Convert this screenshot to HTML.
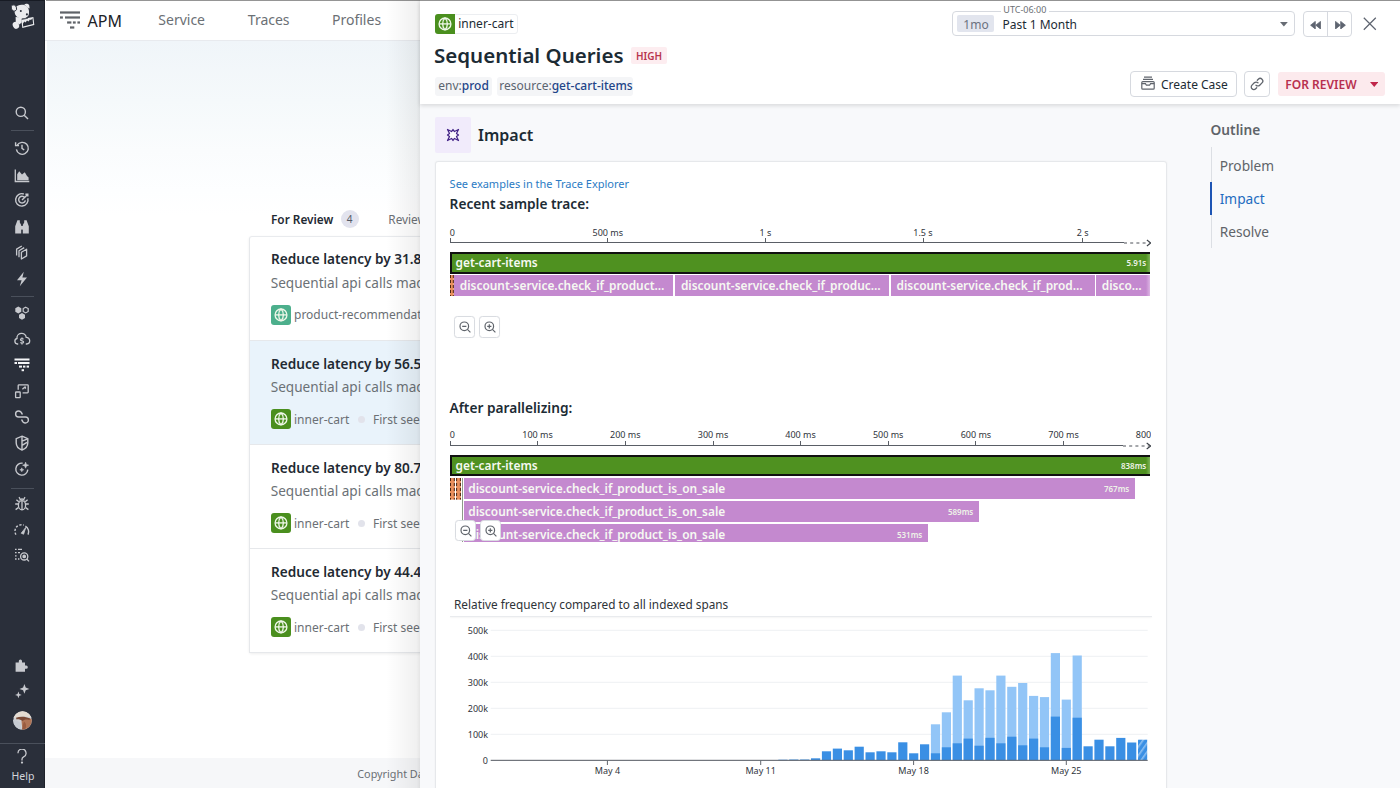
<!DOCTYPE html>
<html><head><meta charset="utf-8">
<style>
*{box-sizing:border-box;margin:0;padding:0}
html,body{width:1400px;height:788px;overflow:hidden;background:#fff}
body{position:relative;font-family:"Noto Sans","Liberation Sans",sans-serif;color:#1c2b34;line-height:normal}
.a{position:absolute;white-space:nowrap}
#side{left:0;top:0;width:45px;height:788px;background:#2a2f3a}
.si{position:absolute;left:14px;width:16px;height:16px;overflow:visible}
.sep{position:absolute;left:11px;width:23px;height:1px;background:#4a505b}
#topnav{left:45px;top:0;width:380px;height:41px;background:#fff;border-bottom:1px solid #e8eaee}
#main{left:45px;top:41px;width:380px;height:717px;background:linear-gradient(#f0f5f9,#f5f9fb 60px,#fafcfd 110px,#fdfeff 150px,#fff 175px);border-left:2px solid #fff}
.navt{top:10.4px;font-size:14px;color:#6b7075}
#footer{left:45px;top:758px;width:380px;height:30px;background:#f6f7f9}
.row{position:absolute;left:248.5px;width:180px;height:104px;border-left:1px solid #e6e8eb;border-bottom:1px solid #e6e8eb;background:#fff;overflow:hidden}
.row.sel{background:#e9f3fb}
.row .t1{position:absolute;left:21.5px;top:13.1px;font-size:13.6px;font-weight:600;white-space:nowrap;color:#1f2a33}
.row .t2{position:absolute;left:21.2px;top:36.8px;font-size:13.6px;white-space:nowrap;color:#6b7176}
.row .t3{position:absolute;left:44.5px;top:70px;font-size:12px;white-space:nowrap;color:#6b7075}
.row .dot{position:absolute;left:108.2px;top:75.6px;width:7px;height:7px;border-radius:50%;background:#e2e3eb}
.row .t4{position:absolute;left:123.5px;top:70px;font-size:12px;white-space:nowrap;color:#6b7075}
.svc{position:absolute;width:20px;height:20px;border-radius:3px;background:#4a8f1e}
.svc svg{position:absolute;left:0;top:0}
.tl{font-size:9px;color:#2f353c}
.gbar{background:linear-gradient(90deg,#4f9120 0,#4f9120 calc(100% - 4px),#7fb35a 100%);border:2px solid #111;border-right:none}
.bt{font-size:11.9px;font-weight:600;color:#f6f9f2}
.pbar{background:#c489cf}
.dur{font-size:8px;font-weight:600;color:#eef3e8}
.stripe{background:repeating-linear-gradient(0deg,#e58a45 0 3px,#3b2b20 3px 4px)}
.stripe2{background:linear-gradient(90deg,#222 0 1px,#e2874a 1px 4px,#222 4px 5px,transparent 5px 6px,#222 6px 7px,#e2874a 7px 10px,#222 10px 11px)}
.zb{width:21.2px;height:21.6px;border:1px solid #d9dce1;border-radius:3.5px;background:#fff;box-shadow:0 0 1px rgba(0,0,0,.06)}
.zb svg{position:absolute;left:0;top:0}
</style></head>
<body>
<!-- ============ LEFT SIDEBAR ============ -->
<div id="side" class="a"></div>
<div class="a" style="left:44px;top:0;width:1.4px;height:788px;background:#1e212a"></div>
<!--SIDEBAR-->
<!-- logo -->
<svg class="a" style="left:0;top:0" width="44" height="34" viewBox="0 0 44 34">
 <g fill="#eaebed">
  <path d="M15.5 7.5C17 5 20.5 4.3 23.5 4.8C26.5 5.3 28.6 7.5 28.9 10.5C29.2 12.5 29 14.5 28.2 16C26.5 18 23.5 18.6 21 18.4C18.5 18.2 16.2 17 15.2 14.6C14.3 12.3 14.3 9.6 15.5 7.5z"/>
  <path d="M24.2 4.2C26 3.3 28.2 3.6 29.2 5.2L29.6 8.4L27.6 7.6C26.6 6.4 25.4 5.4 24.2 4.2z"/>
  <path d="M15.6 17L21.8 17.6L21.6 22.4L19.4 24.4L15.8 22z"/>
  <ellipse cx="15.9" cy="25.3" rx="3.1" ry="3.6" transform="rotate(-25 15.9 25.3)"/>
  <path d="M21.2 19.3L33.4 16.9L34.3 24.9L22.3 27.9z"/>
 </g>
 <ellipse cx="13.9" cy="8" rx="2.6" ry="3.3" transform="rotate(-20 13.9 8)" fill="#eaebed" stroke="#2a2f3a" stroke-width="0.9"/>
 <circle cx="20.8" cy="11.1" r="1" fill="#2a2f3a"/>
 <circle cx="26.9" cy="14.4" r="1.05" fill="#2a2f3a"/>
 <path d="M23.1 26.6L23 23.5L24.3 21.6L25.5 22.6L27 20.5L28.5 21.4L29.9 19.5L31 19.9L32.5 18.3L33.1 23.9z" fill="#2a2f3a"/>
 <path d="M21.6 19.6L28 18.2" stroke="#2a2f3a" stroke-width="0.7"/>
</svg>
<g></g>
<svg class="si" style="top:105px" viewBox="0 0 16 16" fill="none" stroke="#c7c9ce" stroke-width="1.4"><circle cx="6.8" cy="6.8" r="4.6"/><path d="M10.2 10.2L14 14"/></svg>
<div class="sep" style="top:130px"></div>
<svg class="si" style="top:140px" viewBox="0 0 16 16" fill="none" stroke="#c7c9ce" stroke-width="1.4"><path d="M3.2 5.2A6 6 0 1 1 2.4 9.4"/><path d="M1.6 2.2v3.4h3.4"/><path d="M8 4.8v3.6l2.2 1.6"/></svg>
<svg class="si" style="top:167px" viewBox="0 0 16 16"><path d="M1.3 2.5v12h14" fill="none" stroke="#c7c9ce" stroke-width="1.3"/><path d="M3.2 13.3V7.2L5.2 4.2L8 7.6L10.8 5.2L13 9L14.6 10.4V13.3z" fill="#c7c9ce"/></svg>
<svg class="si" style="top:192px" viewBox="0 0 16 16" fill="none" stroke="#c7c9ce" stroke-width="1.4"><path d="M13.8 6.2A6.2 6.2 0 1 1 9.8 2"/><path d="M10.8 5.6A3.4 3.4 0 1 0 11.4 8.4"/><path d="M8 8l5.6-5.6M11.4 2.2h2.4v2.4"/></svg>
<svg class="si" style="top:219px" viewBox="0 0 16 16" fill="#c7c9ce"><path d="M3.4 1.2h2.4v2.4L7.2 6v8.6H1.2V7.2L2.6 3.6z"/><path d="M10.2 1.2h2.4l0.8 2.4l1.4 3.6v7.4H8.8V6l1.4-2.4z"/><rect x="6.6" y="7" width="2.8" height="3.6"/></svg>
<svg class="si" style="top:244px" viewBox="0 0 16 16" fill="none" stroke="#c7c9ce" stroke-width="1.3" stroke-linejoin="round"><path d="M7.4 8.3L12.6 5.2V11.9L7.4 15z"/><path d="M5 13.2V6.7L10.2 3.6"/><path d="M2.6 11.5V5.1L7.8 2"/></svg>
<svg class="si" style="top:271px" viewBox="0 0 16 16" fill="#c7c9ce"><path d="M9.8 0.8L3 9.2h4.6L5.8 15.2L13 6.6H8.4z"/></svg>
<div class="sep" style="top:295.5px"></div>
<svg class="si" style="top:305px" viewBox="0 0 16 16"><g fill="#c7c9ce"><path d="M4.3 1.6l3 1.7v3.4l-3 1.7l-3-1.7V3.3z"/><path d="M8 8l3 1.7v3.4l-3 1.7l-3-1.7V9.7z"/></g><path d="M11.7 2.2l2.5 1.4v2.9l-2.5 1.4l-2.5-1.4V3.6z" fill="none" stroke="#c7c9ce" stroke-width="1.2"/></svg>
<svg class="si" style="top:331px" viewBox="0 0 16 16" fill="none" stroke="#c7c9ce" stroke-width="1.3"><path d="M4.2 13H3.4A2.8 2.8 0 0 1 3 7.5A4.6 4.6 0 0 1 12.2 6.4A3.3 3.3 0 0 1 12.6 13H11.8"/><path d="M9.4 8.4C9.1 7.8 8.6 7.6 8 7.6c-0.9 0-1.5 0.5-1.5 1.1c0 1.4 3.1 0.9 3.1 2.4c0 0.6-0.7 1.1-1.6 1.1c-0.7 0-1.2-0.3-1.5-0.8M8 6.6v1M8 12.2v1.2"/></svg>
<svg class="si" style="top:357px" viewBox="0 0 16 16"><g fill="#f4f5f7"><rect x="0.5" y="1.5" width="15" height="2"/><rect x="0.5" y="5" width="2.5" height="2"/><rect x="4" y="5" width="11.5" height="2"/><rect x="5" y="8.6" width="3" height="2"/><rect x="9" y="8.6" width="2.4" height="2"/><rect x="12.6" y="8.6" width="2.4" height="2"/><rect x="7.6" y="12.2" width="2.4" height="2"/></g></svg>
<svg class="si" style="top:383px" viewBox="0 0 16 16" fill="none" stroke="#c7c9ce" stroke-width="1.3"><rect x="1.6" y="9" width="4.6" height="5.6" rx="0.6"/><path d="M4.2 6.8V2.6A0.8 0.8 0 0 1 5 1.8h8.4a0.8 0.8 0 0 1 0.8 0.8v6.4a0.8 0.8 0 0 1-0.8 0.8H8.6"/><path d="M8.4 6.2l2.8-2.4M11.4 3.6v2.2"/></svg>
<svg class="si" style="top:409px" viewBox="0 0 16 16" fill="none" stroke="#c7c9ce" stroke-width="1.4"><path d="M8.4 5.6C7.6 3.4 6.4 2 4.6 2a3 3 0 0 0 0 6h6.8a3 3 0 0 1 0 6c-1.8 0-3-1.4-3.8-3.6"/></svg>
<svg class="si" style="top:435px" viewBox="0 0 16 16" fill="none" stroke="#c7c9ce" stroke-width="1.4"><path d="M8 1.2l5.8 2.4v4.2c0 3.4-2.4 6-5.8 7.2C4.6 13.8 2.2 11.2 2.2 7.8V3.6z"/><path d="M8 1.4v13.6M8 6.2l5.6-2.4M8 10.4l5-3"/></svg>
<svg class="si" style="top:461px" viewBox="0 0 16 16" fill="none" stroke="#c7c9ce" stroke-width="1.4"><path d="M13.8 8.6A6 6 0 1 1 8.6 2.2"/><path d="M11.6 1.2l0.8 2.2l2.2 0.8l-2.2 0.8l-0.8 2.2l-0.8-2.2l-2.2-0.8l2.2-0.8z" fill="#c7c9ce" stroke-width="0.6"/><path d="M7.8 6.8l0.6 1.4l1.4 0.6l-1.4 0.6l-0.6 1.4l-0.6-1.4l-1.4-0.6l1.4-0.6z" fill="#c7c9ce" stroke-width="0.5"/></svg>
<div class="sep" style="top:488px"></div>
<svg class="si" style="top:496px" viewBox="0 0 16 16" fill="none" stroke="#c7c9ce" stroke-width="1.3"><ellipse cx="8" cy="9.2" rx="3.6" ry="4.6"/><path d="M5.6 4.6A2.6 2.6 0 0 1 10.4 4.6M8 4.6v9.2M4.4 8H1.2M11.6 8h3.2M4.4 11.6l-2.8 2M11.6 11.6l2.8 2M4.8 5.8L2.4 3.8M11.2 5.8l2.4-2M6 2.8L5 1.2M10 2.8l1-1.6"/></svg>
<svg class="si" style="top:522px" viewBox="0 0 16 16" fill="none" stroke="#c7c9ce" stroke-width="1.4"><path d="M2 12.6A6.4 6.4 0 0 1 9.8 3.2" stroke-dasharray="2.2 1.6"/><path d="M11.4 4.2A6.4 6.4 0 0 1 14 12.6"/><path d="M7.2 11.2l4.6-5.8l-2.2 6.8z" fill="#c7c9ce" stroke-width="0.8"/></svg>
<svg class="si" style="top:547px" viewBox="0 0 16 16" fill="none" stroke="#c7c9ce" stroke-width="1.3"><path d="M1 2.4h1.6M4 2.4h4M1 5.6h1.6M4 5.6h2M1 8.8h1.6M1 12h1.6M4 12h1.4"/><circle cx="10.2" cy="9.4" r="3.6"/><circle cx="10.2" cy="9.4" r="1.2" fill="#c7c9ce"/><path d="M12.8 12l2.2 2.4"/></svg>
<svg class="si" style="top:657px" viewBox="0 0 16 16" fill="#c7c9ce"><path d="M1.6 5.4h3.2V4a1.6 1.6 0 0 1 3.2 0v1.4h3v3.2h1.2a1.6 1.6 0 0 1 0 3.2h-1.2v3H1.6z"/></svg>
<svg class="si" style="top:683px" viewBox="0 0 16 16" fill="#c7c9ce"><path d="M10.4 1l1.3 3.6l3.6 1.3l-3.6 1.3l-1.3 3.6l-1.3-3.6l-3.6-1.3l3.6-1.3z"/><path d="M4.4 8.6l0.9 2.4l2.4 0.9l-2.4 0.9l-0.9 2.4l-0.9-2.4l-2.4-0.9l2.4-0.9z"/></svg>
<svg class="a" style="left:12.6px;top:711.2px" width="19" height="19" viewBox="0 0 19 19"><defs><clipPath id="av"><circle cx="9.5" cy="9.5" r="9.3"/></clipPath><filter id="avb" x="-20%" y="-20%" width="140%" height="140%"><feGaussianBlur stdDeviation="0.7"/></filter></defs><g clip-path="url(#av)"><rect width="19" height="19" fill="#cfd0d3"/><g filter="url(#avb)"><path d="M0 0H19V7C15 5 9 5 3 6.5L0 7z" fill="#e4dcd2"/><path d="M8.5 8C11 6.8 15 6.5 19 8V19H10C9 16 8.5 12 8.5 8z" fill="#b07556"/><path d="M3 6.8C7 5.4 12 5.2 17 7.5L16.5 9C13 8 11 8.6 9.5 10C8 8.6 5.5 8.2 3.5 8.4z" fill="#7a4a36"/><path d="M11 10.5c1.5 1 2.5 3 2 6l-2 2.5H8.8c0.8-3 1.2-6 2.2-8.5z" fill="#9a5c40"/><path d="M0 9C2 8.6 5 9.5 7.5 12L8.5 19H0z" fill="#c5cad1"/></g></g></svg>
<div class="a" style="left:0;top:743px;width:45px;height:1px;background:#4a505b"></div>
<svg class="a" style="left:16px;top:749px" width="12" height="15" viewBox="0 0 12 15" fill="none" stroke="#c7c9ce" stroke-width="1.3"><path d="M2 4.2a4 4 0 1 1 5.6 3.6c-1 0.5-1.6 1.2-1.6 2.4v1.2"/><circle cx="6" cy="13.6" r="0.5" fill="#c7c9ce"/></svg>
<div class="a" style="left:11.5px;top:768.5px;font-size:10.5px;color:#d3d5da">Help</div>
<!--/SIDEBAR-->

<!-- ============ TOP NAV + MAIN ============ -->
<div id="main" class="a"></div>
<div id="topnav" class="a"></div>
<svg class="a" style="left:60px;top:11px" width="20" height="18" viewBox="0 0 20 18"><g fill="#5f6368"><rect x="0" y="0.4" width="20" height="2.2"/><rect x="0" y="5.4" width="2.9" height="2.2"/><rect x="5" y="5.4" width="15" height="2.2"/><rect x="7.1" y="10.4" width="4.3" height="2.2"/><rect x="12.9" y="10.4" width="2.8" height="2.2"/><rect x="17.4" y="10.4" width="2.6" height="2.2"/><rect x="10" y="15.4" width="4.3" height="2.2"/></g></svg>
<div class="a" style="left:87.5px;top:9.6px;font-size:16px;color:#1c2228">APM</div>
<div class="a navt" style="left:158.3px">Service</div>
<div class="a navt" style="left:247.8px">Traces</div>
<div class="a navt" style="left:332px">Profiles</div>

<div class="a" style="left:271px;top:211.1px;font-size:11.8px;font-weight:600;color:#1f2a33">For Review</div>
<div class="a" style="left:340.5px;top:209.8px;width:18px;height:18px;border-radius:50%;background:#e2e3ee;font-size:10px;color:#555b66;text-align:center;line-height:18px">4</div>
<div class="a" style="left:388.3px;top:211.1px;font-size:11.8px;color:#6b7075">Reviewed</div>

<div class="a" style="left:248.5px;top:236px;width:190px;height:417px;border-radius:3px;box-shadow:0 1px 3px rgba(0,0,0,.07)"></div>
<div class="row" style="top:236px;border-top:1px solid #e9ebee;border-top-left-radius:3px;height:104.5px">
  <div class="t1" style="top:12.1px">Reduce latency by 31.8%</div>
  <div class="t2" style="top:35.8px">Sequential api calls made by</div>
  <div class="svc" style="left:21px;top:67.5px;background:#4caf8c"><svg width="20" height="20" viewBox="0 0 20 20" fill="none" stroke="#eef7e8" stroke-width="1.35"><circle cx="10" cy="9.9" r="5.9"/><path d="M10 4C6.9 6.6 6.9 13.2 10 15.8C13.1 13.2 13.1 6.6 10 4z"/><path d="M4.1 9.9h11.8"/></svg></div>
  <div class="t3" style="top:69px">product-recommendation</div>
</div>
<div class="row sel" style="top:340.5px">
  <div class="t1">Reduce latency by 56.5%</div>
  <div class="t2">Sequential api calls made by</div>
  <div class="svc" style="left:21px;top:68.5px"><svg width="20" height="20" viewBox="0 0 20 20" fill="none" stroke="#eef7e8" stroke-width="1.35"><circle cx="10" cy="9.9" r="5.9"/><path d="M10 4C6.9 6.6 6.9 13.2 10 15.8C13.1 13.2 13.1 6.6 10 4z"/><path d="M4.1 9.9h11.8"/></svg></div>
  <div class="t3">inner-cart</div><div class="dot"></div><div class="t4">First seen</div>
</div>
<div class="row" style="top:444.5px">
  <div class="t1">Reduce latency by 80.7%</div>
  <div class="t2">Sequential api calls made by</div>
  <div class="svc" style="left:21px;top:68.5px"><svg width="20" height="20" viewBox="0 0 20 20" fill="none" stroke="#eef7e8" stroke-width="1.35"><circle cx="10" cy="9.9" r="5.9"/><path d="M10 4C6.9 6.6 6.9 13.2 10 15.8C13.1 13.2 13.1 6.6 10 4z"/><path d="M4.1 9.9h11.8"/></svg></div>
  <div class="t3">inner-cart</div><div class="dot"></div><div class="t4">First seen</div>
</div>
<div class="row" style="top:548.5px">
  <div class="t1">Reduce latency by 44.4%</div>
  <div class="t2">Sequential api calls made by</div>
  <div class="svc" style="left:21px;top:68.5px"><svg width="20" height="20" viewBox="0 0 20 20" fill="none" stroke="#eef7e8" stroke-width="1.35"><circle cx="10" cy="9.9" r="5.9"/><path d="M10 4C6.9 6.6 6.9 13.2 10 15.8C13.1 13.2 13.1 6.6 10 4z"/><path d="M4.1 9.9h11.8"/></svg></div>
  <div class="t3">inner-cart</div><div class="dot"></div><div class="t4">First seen</div>
</div>

<div id="footer" class="a"></div>
<div class="a" style="left:357.3px;top:766.3px;font-size:10.8px;color:#6b7075">Copyright Datadog, Inc. 2024</div>
<div class="a" style="left:45.5px;top:0;width:1355px;height:1px;background:#959595"></div>
<div class="a" style="left:0;top:0;width:45px;height:1px;background:#171b24"></div>

<!-- ============ DRAWER ============ -->
<div class="a" style="left:386px;top:0;width:34px;height:788px;background:linear-gradient(90deg,rgba(0,0,0,0),rgba(0,0,0,.03) 50%,rgba(0,0,0,.06) 90%,rgba(0,0,0,.10))"></div>
<div class="a" style="left:420px;top:1px;width:980px;height:787px;background:#f8f9fb"></div>
<div class="a" style="left:420px;top:1px;width:980px;height:103px;background:#fff;box-shadow:0 2px 4px rgba(0,0,0,.12)"></div>

<!-- service chip -->
<div class="a" style="left:434.5px;top:14px;width:83px;height:20px;border:1px solid #eceef1;border-radius:3px;background:#fff"></div>
<div class="svc" style="left:434.5px;top:14px;border-radius:3px 0 0 3px"><svg width="20" height="20" viewBox="0 0 20 20" fill="none" stroke="#eef7e8" stroke-width="1.35"><circle cx="10" cy="9.9" r="5.9"/><path d="M10 4C6.9 6.6 6.9 13.2 10 15.8C13.1 13.2 13.1 6.6 10 4z"/><path d="M4.1 9.9h11.8"/></svg></div>
<div class="a" style="left:458.2px;top:15.1px;font-size:12px;color:#1c2b34">inner-cart</div>

<div class="a" style="left:434px;top:40.8px;font-size:20.5px;font-weight:600;color:#1c2b34">Sequential Queries</div>
<div class="a" style="left:631.3px;top:47.4px;width:35.3px;height:16.6px;background:#fdedf0;border-radius:2px"></div>
<div class="a" style="left:636px;top:48.8px;font-size:10px;font-weight:600;color:#b8344f">HIGH</div>

<div class="a" style="left:435px;top:77px;width:56.5px;height:18.6px;background:#f4f5f7;border-radius:3px"></div>
<div class="a" style="left:496.5px;top:77px;width:136.7px;height:18.6px;background:#f4f5f7;border-radius:3px"></div>
<div class="a" style="left:438.3px;top:77.4px;font-size:12px;color:#5b6470">env:<span style="color:#224488;font-weight:500">prod</span></div>
<div class="a" style="left:499.3px;top:77.4px;font-size:12px;color:#5b6470">resource:<span style="color:#224488;font-weight:500">get-cart-items</span></div>

<!-- time picker -->
<div class="a" style="left:952px;top:11.4px;width:343.4px;height:24.8px;border:1px solid #d6d9df;border-radius:4px;background:#fff"></div>
<div class="a" style="left:1001px;top:5px;width:48px;height:10px;background:#fff"></div>
<div class="a" style="left:1003.3px;top:3.2px;font-size:9px;color:#6b7075">UTC-06:00</div>
<div class="a" style="left:957px;top:15.4px;width:37.3px;height:16.3px;background:#e2e5ee;border-radius:2px"></div>
<div class="a" style="left:963.3px;top:15.8px;font-size:12px;color:#6b7280">1mo</div>
<div class="a" style="left:1002.5px;top:15.8px;font-size:12px;color:#1c2b34">Past 1 Month</div>
<svg class="a" style="left:1279.8px;top:22.3px" width="7.8" height="4.6" viewBox="0 0 7.8 4.6"><path d="M0 0h7.8L3.9 4.6z" fill="#676c74"/></svg>
<div class="a" style="left:1302.6px;top:11.4px;width:49.4px;height:25.2px;border:1px solid #d6d9df;border-radius:4px;background:#fff"></div>
<div class="a" style="left:1327px;top:12px;width:1px;height:24px;background:#d6d9df"></div>
<svg class="a" style="left:1309.5px;top:20.6px" width="11" height="8.4" viewBox="0 0 11 8.4"><path d="M5.3 0.4L0.6 4.2l4.7 3.8zM10.5 0.4L5.8 4.2l4.7 3.8z" fill="#5e6470" stroke="#5e6470" stroke-width="0.8" stroke-linejoin="round"/></svg>
<svg class="a" style="left:1334.8px;top:20.6px" width="11" height="8.4" viewBox="0 0 11 8.4"><path d="M0.5 0.4L5.2 4.2L0.5 8zM5.7 0.4l4.7 3.8l-4.7 3.8z" fill="#5e6470" stroke="#5e6470" stroke-width="0.8" stroke-linejoin="round"/></svg>
<svg class="a" style="left:1362.5px;top:16.8px" width="14" height="14" viewBox="0 0 14 14"><path d="M0.8 0.8L12.8 12.8M12.8 0.8L0.8 12.8" stroke="#5e6470" stroke-width="1.25" fill="none"/></svg>

<!-- action buttons -->
<div class="a" style="left:1130.4px;top:71.4px;width:106.2px;height:25.2px;border:1px solid #d6d9df;border-radius:4px;background:#fff"></div>
<svg class="a" style="left:1141px;top:76px" width="14" height="14" viewBox="0 0 14 14" fill="none" stroke="#60656d" stroke-width="1.2"><path d="M3 1.2h8M2 3.4h10"/><rect x="0.8" y="5.6" width="12.4" height="7.6" rx="1"/><path d="M0.8 7.6h3.6l1 1.6h3.2l1-1.6h3.6"/></svg>
<div class="a" style="left:1161px;top:75.8px;font-size:12px;color:#1c2b34">Create Case</div>
<div class="a" style="left:1244.4px;top:71.4px;width:25.2px;height:25.2px;border:1px solid #d6d9df;border-radius:4px;background:#fff"></div>
<svg class="a" style="left:1250px;top:77px" width="14" height="14" viewBox="0 0 14 14" fill="none" stroke="#60656d" stroke-width="1.3" stroke-linecap="round"><path d="M6 8.2a2.6 2.6 0 0 0 3.7 0l2.3-2.3a2.6 2.6 0 0 0-3.7-3.7L7.3 3.2"/><path d="M8 5.8a2.6 2.6 0 0 0-3.7 0L2 8.1a2.6 2.6 0 0 0 3.7 3.7l1-1"/></svg>
<div class="a" style="left:1277.6px;top:71.6px;width:107.4px;height:24.4px;background:#fceaed;border-radius:3px"></div>
<div class="a" style="left:1285.3px;top:75.8px;font-size:12px;font-weight:600;color:#b8304f">FOR REVIEW</div>
<svg class="a" style="left:1369.8px;top:81.8px" width="8.5" height="5" viewBox="0 0 8.5 5"><path d="M0 0h8.5L4.25 5z" fill="#c0264a"/></svg>

<!-- impact section header -->
<div class="a" style="left:435px;top:117px;width:35.6px;height:35.6px;background:#f1ebfb;border-radius:2px"></div>
<svg class="a" style="left:446.7px;top:128.8px" width="12" height="12" viewBox="0 0 12 12" overflow="visible"><path d="M6.00 0.50 L7.44 2.54 L11.50 0.50 L9.46 4.56 L11.50 6.00 L9.46 7.44 L11.50 11.50 L7.44 9.46 L6.00 11.50 L4.56 9.46 L0.50 11.50 L2.54 7.44 L0.50 6.00 L2.54 4.56 L0.50 0.50 L4.56 2.54Z" fill="#fbf9fe" stroke="#432387" stroke-width="1.25" stroke-linejoin="round"/></svg>
<div class="a" style="left:478px;top:124.1px;font-size:16px;font-weight:600;color:#1c2b34">Impact</div>

<!-- outline -->
<div class="a" style="left:1210.6px;top:119.5px;font-size:13.7px;font-weight:600;color:#5f6469">Outline</div>
<div class="a" style="left:1210.6px;top:147.3px;width:1.6px;height:100.5px;background:#dcdfe4"></div>
<div class="a" style="left:1210px;top:182px;width:2.4px;height:32.5px;background:#1e55b4"></div>
<div class="a" style="left:1219.7px;top:155.8px;font-size:13.7px;color:#5f6469">Problem</div>
<div class="a" style="left:1219.7px;top:188.8px;font-size:13.7px;color:#1e6cc0">Impact</div>
<div class="a" style="left:1219.7px;top:221.9px;font-size:13.7px;color:#5f6469">Resolve</div>

<!-- main card -->
<div class="a" style="left:435px;top:160.5px;width:732px;height:640px;background:#fff;border:1px solid #e6e8eb;border-radius:3px;box-shadow:0 0 2px rgba(0,0,0,.05)"></div>
<div class="a" style="left:449.6px;top:175.7px;font-size:11px;color:#2b7bc4">See examples in the Trace Explorer</div>
<div class="a" style="left:449.6px;top:194px;font-size:13.7px;font-weight:600;color:#1c2b34">Recent sample trace:</div>
<!--TRACE1-->
<div class="a tl" style="left:449.7px;top:225.8px">0</div>
<div class="a" style="left:449.5px;top:237.5px;width:1px;height:5px;background:#5a5f66"></div>
<div class="a tl" style="left:567.8px;top:225.8px;width:80px;text-align:center">500 ms</div>
<div class="a" style="left:607.3px;top:237.5px;width:1px;height:5px;background:#5a5f66"></div>
<div class="a tl" style="left:725.3px;top:225.8px;width:80px;text-align:center">1 s</div>
<div class="a" style="left:764.8px;top:237.5px;width:1px;height:5px;background:#5a5f66"></div>
<div class="a tl" style="left:883.0px;top:225.8px;width:80px;text-align:center">1.5 s</div>
<div class="a" style="left:922.5px;top:237.5px;width:1px;height:5px;background:#5a5f66"></div>
<div class="a tl" style="left:1042.6px;top:225.8px;width:80px;text-align:center">2 s</div>
<div class="a" style="left:1082.1px;top:237.5px;width:1px;height:5px;background:#5a5f66"></div>
<div class="a" style="left:450.0px;top:242.0px;width:673.6px;height:1px;background:#5a5f66"></div>
<svg class="a" style="left:1123.6px;top:238.5px" width="27.9" height="8" viewBox="0 0 27.9 8"><path d="M0 4H25.9" stroke="#4a4f56" stroke-width="1" stroke-dasharray="3 3.2"/><path d="M22.9 1L26.9 4L22.9 7" fill="none" stroke="#3a3f46" stroke-width="1.1"/></svg>
<div class="a gbar" style="left:450px;top:252px;width:700px;height:21.5px"></div>
<div class="a bt" style="left:455.5px;top:254px">get-cart-items</div>
<div class="a dur" style="left:1100px;top:257.2px;width:46.3px;text-align:right">5.91s</div>
<svg class="a" style="left:449.8px;top:275px" width="4" height="21.4"><rect x="0" y="0" width="3.8" height="21.4" fill="#e98f5c"/><path d="M0.5 0V21.4M3.3 0V21.4" stroke="#4a2412" stroke-width="1" stroke-dasharray="3 2"/></svg>
<div class="a pbar" style="left:454.3px;top:275px;width:218.7px;height:21.4px"></div>
<div class="a bt" style="left:459.8px;top:277px">discount-service.check_if_product…</div>
<div class="a pbar" style="left:675.4px;top:275px;width:213.6px;height:21.4px"></div>
<div class="a bt" style="left:680.9px;top:277px">discount-service.check_if_produc…</div>
<div class="a pbar" style="left:891px;top:275px;width:203.5px;height:21.4px"></div>
<div class="a bt" style="left:896.5px;top:277px">discount-service.check_if_prod…</div>
<div class="a pbar" style="left:1096.3px;top:275px;width:53.9px;height:21.4px;background:linear-gradient(90deg,#c489cf calc(100% - 4px),#dcb5e3)"></div>
<div class="a bt" style="left:1101.8px;top:277px">disco…</div>
<div class="a zb" style="left:453.6px;top:316px"><svg width="20" height="20" viewBox="0 0 20 20" fill="none" stroke="#5f646b" stroke-width="1.2"><circle cx="9.3" cy="9.3" r="4.3"/><path d="M12.4 12.4l3 3M7.2 9.3h4.2"/></svg></div>
<div class="a zb" style="left:479.3px;top:316px"><svg width="20" height="20" viewBox="0 0 20 20" fill="none" stroke="#5f646b" stroke-width="1.2"><circle cx="9.3" cy="9.3" r="4.3"/><path d="M12.4 12.4l3 3M7.2 9.3h4.2M9.3 7.2v4.2"/></svg></div>
<!--/TRACE1-->
<div class="a" style="left:449.6px;top:397.9px;font-size:13.7px;font-weight:600;color:#1c2b34">After parallelizing:</div>
<!--TRACE2-->
<div class="a tl" style="left:449.7px;top:428.4px">0</div>
<div class="a" style="left:449.5px;top:440.5px;width:1px;height:5px;background:#5a5f66"></div>
<div class="a tl" style="left:497.6px;top:428.4px;width:80px;text-align:center">100 ms</div>
<div class="a" style="left:537.1px;top:440.5px;width:1px;height:5px;background:#5a5f66"></div>
<div class="a tl" style="left:585.3px;top:428.4px;width:80px;text-align:center">200 ms</div>
<div class="a" style="left:624.8px;top:440.5px;width:1px;height:5px;background:#5a5f66"></div>
<div class="a tl" style="left:673.0px;top:428.4px;width:80px;text-align:center">300 ms</div>
<div class="a" style="left:712.5px;top:440.5px;width:1px;height:5px;background:#5a5f66"></div>
<div class="a tl" style="left:760.6px;top:428.4px;width:80px;text-align:center">400 ms</div>
<div class="a" style="left:800.1px;top:440.5px;width:1px;height:5px;background:#5a5f66"></div>
<div class="a tl" style="left:848.2px;top:428.4px;width:80px;text-align:center">500 ms</div>
<div class="a" style="left:887.8px;top:440.5px;width:1px;height:5px;background:#5a5f66"></div>
<div class="a tl" style="left:935.9px;top:428.4px;width:80px;text-align:center">600 ms</div>
<div class="a" style="left:975.4px;top:440.5px;width:1px;height:5px;background:#5a5f66"></div>
<div class="a tl" style="left:1023.6px;top:428.4px;width:80px;text-align:center">700 ms</div>
<div class="a" style="left:1063.1px;top:440.5px;width:1px;height:5px;background:#5a5f66"></div>
<div class="a" style="left:450.0px;top:445.0px;width:672.8px;height:1px;background:#5a5f66"></div>
<svg class="a" style="left:1122.8px;top:441.5px" width="28.7" height="8" viewBox="0 0 28.7 8"><path d="M0 4H26.7" stroke="#4a4f56" stroke-width="1" stroke-dasharray="3 3.2"/><path d="M23.7 1L27.7 4L23.7 7" fill="none" stroke="#3a3f46" stroke-width="1.1"/></svg>
<div class="a" style="left:1120px;top:428.4px;width:31px;height:14px;overflow:hidden"><div class="a tl" style="left:0;top:0;width:62px;text-align:center">800 ms</div></div>
<div class="a" style="left:1122px;top:442px;width:0.1px;height:1px"></div>
<div class="a gbar" style="left:450px;top:455px;width:700px;height:21.3px"></div>
<div class="a bt" style="left:455.5px;top:456.8px">get-cart-items</div>
<div class="a dur" style="left:1100px;top:459.9px;width:46.3px;text-align:right">838ms</div>
<div class="a" style="left:449px;top:477.8px;width:702px;height:64px;overflow:hidden">
<svg class="a" style="left:0.9px;top:0.3px" width="12" height="21.6"><rect x="0" y="0" width="4.8" height="21.6" fill="#e98f5c"/><path d="M0.5 0V21.6M4.3 0V21.6" stroke="#4a2412" stroke-width="1" stroke-dasharray="3 2"/><rect x="6.1" y="0" width="4.8" height="21.6" fill="#e98f5c"/><path d="M6.6 0V21.6M10.399999999999999 0V21.6" stroke="#4a2412" stroke-width="1" stroke-dasharray="3 2"/></svg><div class="a" style="left:13.4px;top:0;width:1px;height:64px;background:#8d9a88"></div>
<div class="a pbar" style="left:14.5px;top:0.2px;width:671.4px;height:21.4px"></div>
<div class="a bt" style="left:19.2px;top:2.0px">discount-service.check_if_product_is_on_sale</div>
<div class="a dur" style="left:630.3px;top:5.1px;width:50px;text-align:right">767ms</div>
<div class="a pbar" style="left:14.5px;top:23px;width:515.4px;height:21.4px"></div>
<div class="a bt" style="left:19.2px;top:24.8px">discount-service.check_if_product_is_on_sale</div>
<div class="a dur" style="left:474.3px;top:27.9px;width:50px;text-align:right">589ms</div>
<div class="a pbar" style="left:14.5px;top:46px;width:464.4px;height:21.4px"></div>
<div class="a bt" style="left:19.2px;top:47.8px">discount-service.check_if_product_is_on_sale</div>
<div class="a dur" style="left:423.3px;top:50.9px;width:50px;text-align:right">531ms</div>
</div>
<div class="a zb" style="left:454.6px;top:519.7px"><svg width="20" height="20" viewBox="0 0 20 20" fill="none" stroke="#5f646b" stroke-width="1.2"><circle cx="9.3" cy="9.3" r="4.3"/><path d="M12.4 12.4l3 3M7.2 9.3h4.2"/></svg></div>
<div class="a zb" style="left:479.6px;top:519.7px"><svg width="20" height="20" viewBox="0 0 20 20" fill="none" stroke="#5f646b" stroke-width="1.2"><circle cx="9.3" cy="9.3" r="4.3"/><path d="M12.4 12.4l3 3M7.2 9.3h4.2M9.3 7.2v4.2"/></svg></div>
<!--/TRACE2-->
<!--CHART-->
<div class="a" style="left:450px;top:616px;width:701.6px;height:1px;background:#e9ebee;box-shadow:0 1px 1.5px rgba(0,0,0,.05)"></div>
<div class="a" style="left:454px;top:596.4px;font-size:11.8px;color:#2e3338">Relative frequency compared to all indexed spans</div>
<svg class="a" style="left:0;top:0" width="1400" height="788" viewBox="0 0 1400 788">
<defs><pattern id="hatch" width="5" height="5" patternUnits="userSpaceOnUse" patternTransform="rotate(35)"><rect width="5" height="5" fill="#3a8fe4"/><rect width="1.6" height="5" fill="#8cc0f2"/></pattern></defs>
<rect x="490.7" y="733.8" width="657" height="1" fill="#eef0f3"/>
<rect x="490.7" y="707.8" width="657" height="1" fill="#eef0f3"/>
<rect x="490.7" y="681.8" width="657" height="1" fill="#eef0f3"/>
<rect x="490.7" y="655.8" width="657" height="1" fill="#eef0f3"/>
<rect x="490.7" y="629.8" width="657" height="1" fill="#eef0f3"/>
<rect x="778.3" y="759.7" width="9.2" height="0.6" fill="#3a8fe4"/>
<rect x="789.2" y="759.5" width="9.2" height="0.8" fill="#3a8fe4"/>
<rect x="800.1" y="759.5" width="9.2" height="0.8" fill="#3a8fe4"/>
<rect x="811.0" y="758.3" width="9.2" height="2.0" fill="#3a8fe4"/>
<rect x="821.9" y="751.3" width="9.2" height="9.0" fill="#3a8fe4"/>
<rect x="832.8" y="748.6" width="9.2" height="11.7" fill="#3a8fe4"/>
<rect x="843.7" y="750.3" width="9.2" height="10.0" fill="#3a8fe4"/>
<rect x="854.6" y="746.7" width="9.2" height="13.6" fill="#3a8fe4"/>
<rect x="865.5" y="752.3" width="9.2" height="8.0" fill="#3a8fe4"/>
<rect x="876.4" y="751.3" width="9.2" height="9.0" fill="#3a8fe4"/>
<rect x="887.3" y="752.3" width="9.2" height="8.0" fill="#3a8fe4"/>
<rect x="898.2" y="742.3" width="9.2" height="18.0" fill="#3a8fe4"/>
<rect x="909.1" y="753.3" width="9.2" height="7.0" fill="#3a8fe4"/>
<rect x="920.0" y="744.3" width="9.2" height="16.0" fill="#3a8fe4"/>
<rect x="930.9" y="724.3" width="9.2" height="36.0" fill="#92c5f7"/>
<rect x="930.9" y="753.3" width="9.2" height="7.0" fill="#3a8fe4"/>
<rect x="941.8" y="712.3" width="9.2" height="48.0" fill="#92c5f7"/>
<rect x="941.8" y="747.3" width="9.2" height="13.0" fill="#3a8fe4"/>
<rect x="952.7" y="675.6" width="9.2" height="84.7" fill="#92c5f7"/>
<rect x="952.7" y="743.3" width="9.2" height="17.0" fill="#3a8fe4"/>
<rect x="963.6" y="700.3" width="9.2" height="60.0" fill="#92c5f7"/>
<rect x="963.6" y="738.6" width="9.2" height="21.7" fill="#3a8fe4"/>
<rect x="974.5" y="688.3" width="9.2" height="72.0" fill="#92c5f7"/>
<rect x="974.5" y="745.7" width="9.2" height="14.6" fill="#3a8fe4"/>
<rect x="985.4" y="690.3" width="9.2" height="70.0" fill="#92c5f7"/>
<rect x="985.4" y="737.8" width="9.2" height="22.5" fill="#3a8fe4"/>
<rect x="996.3" y="675.6" width="9.2" height="84.7" fill="#92c5f7"/>
<rect x="996.3" y="743.3" width="9.2" height="17.0" fill="#3a8fe4"/>
<rect x="1007.2" y="686.8" width="9.2" height="73.5" fill="#92c5f7"/>
<rect x="1007.2" y="736.7" width="9.2" height="23.6" fill="#3a8fe4"/>
<rect x="1018.1" y="683.0" width="9.2" height="77.3" fill="#92c5f7"/>
<rect x="1018.1" y="745.3" width="9.2" height="15.0" fill="#3a8fe4"/>
<rect x="1029.0" y="695.9" width="9.2" height="64.4" fill="#92c5f7"/>
<rect x="1029.0" y="738.6" width="9.2" height="21.7" fill="#3a8fe4"/>
<rect x="1039.9" y="697.1" width="9.2" height="63.2" fill="#92c5f7"/>
<rect x="1039.9" y="747.3" width="9.2" height="13.0" fill="#3a8fe4"/>
<rect x="1050.8" y="653.1" width="9.2" height="107.2" fill="#92c5f7"/>
<rect x="1050.8" y="716.6" width="9.2" height="43.7" fill="#3a8fe4"/>
<rect x="1061.7" y="699.6" width="9.2" height="60.7" fill="#92c5f7"/>
<rect x="1061.7" y="747.9" width="9.2" height="12.4" fill="#3a8fe4"/>
<rect x="1072.6" y="655.5" width="9.2" height="104.8" fill="#92c5f7"/>
<rect x="1072.6" y="717.7" width="9.2" height="42.6" fill="#3a8fe4"/>
<rect x="1083.5" y="746.3" width="9.2" height="14.0" fill="#3a8fe4"/>
<rect x="1094.4" y="739.7" width="9.2" height="20.6" fill="#3a8fe4"/>
<rect x="1105.3" y="746.3" width="9.2" height="14.0" fill="#3a8fe4"/>
<rect x="1116.2" y="737.9" width="9.2" height="22.4" fill="#3a8fe4"/>
<rect x="1127.1" y="742.5" width="9.2" height="17.8" fill="#3a8fe4"/>
<rect x="1138.0" y="739.7" width="9.2" height="20.6" fill="url(#hatch)"/>

<rect x="490.7" y="759.8" width="657" height="1.1" fill="#62676e"/>
<rect x="606.9" y="760.5" width="1" height="4.5" fill="#62676e"/>
<rect x="760.2" y="760.5" width="1" height="4.5" fill="#62676e"/>
<rect x="913.1" y="760.5" width="1" height="4.5" fill="#62676e"/>
<rect x="1065.8" y="760.5" width="1" height="4.5" fill="#62676e"/>
</svg>
<div class="a tl" style="left:438px;top:754.3px;width:50px;text-align:right">0</div>
<div class="a tl" style="left:438px;top:728.3px;width:50px;text-align:right">100k</div>
<div class="a tl" style="left:438px;top:702.3px;width:50px;text-align:right">200k</div>
<div class="a tl" style="left:438px;top:676.3px;width:50px;text-align:right">300k</div>
<div class="a tl" style="left:438px;top:650.3px;width:50px;text-align:right">400k</div>
<div class="a tl" style="left:438px;top:624.3px;width:50px;text-align:right">500k</div>
<div class="a tl" style="left:567.4px;top:764.4px;width:80px;text-align:center">May 4</div>
<div class="a tl" style="left:720.7px;top:764.4px;width:80px;text-align:center">May 11</div>
<div class="a tl" style="left:873.6px;top:764.4px;width:80px;text-align:center">May 18</div>
<div class="a tl" style="left:1026.3px;top:764.4px;width:80px;text-align:center">May 25</div>
<!--/CHART-->

</body></html>
